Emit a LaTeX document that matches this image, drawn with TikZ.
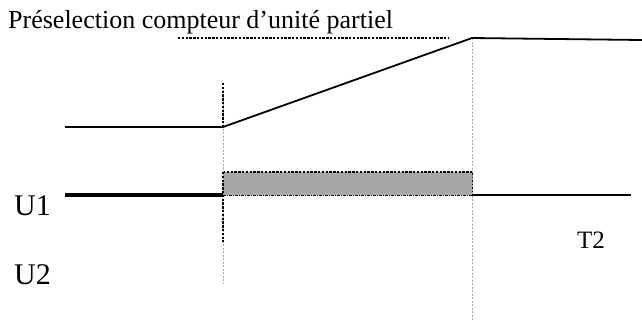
\documentclass[tikz,border=0pt]{standalone}
\usepackage{fontspec}
\setmainfont{Liberation Serif}
\begin{document}
\begin{tikzpicture}[x=1pt,y=-1pt,
  sig/.style={line width=1.8pt},
  thicksig/.style={line width=3.2pt},
  bigdot/.style={line width=2.6pt,dash pattern=on 2.4pt off 1.4pt},
  faint/.style={line width=0.7pt,gray!70,dash pattern=on 2pt off 1.5pt},
  lbl/.style={inner sep=0pt,anchor=base west}]
\useasboundingbox (0,0) rectangle (642,325);
% coordinates
\coordinate (a0) at (65,127);
\coordinate (a1) at (223,127);
\coordinate (a2) at (472,38);
\coordinate (a3) at (642,40);
\coordinate (b0) at (65,195);
\coordinate (b1) at (223,195);
\coordinate (b2) at (472,195);
\coordinate (b3) at (631,195);
\coordinate (r1) at (223,172);
\coordinate (r2) at (472,172);
% rectangle
\fill[gray!70] (r1) rectangle (b2);
\draw[line width=0.9pt] (r2) -- (b2);
\draw[line width=0.7pt,dash pattern=on 3pt off 1pt on 1pt off 1pt] (b1) -- (b2);
\draw[bigdot] (r1) -- (r2);
% guides
\coordinate (v1t) at (223,83);
\coordinate (v1b) at (223,283);
\coordinate (v2b) at (472,320);
\draw[faint] (v1t) -- (v1b);
\draw[faint] (a2) -- (v2b);
\draw[bigdot] (v1t) -- (a1);
\draw[bigdot] (r1) -- (223,242);
% dotted top line
\coordinate (d0) at (178,38);
\coordinate (d1) at (448,38);
\draw[bigdot] (d0) -- (d1);
% signals
\draw[sig] (a0) -- (a1) -- (a2) -- (a3);
\draw[thicksig] (b0) -- (b1);
\draw[sig] (b2) -- (b3);
% labels
\node[lbl,font=\fontsize{26}{30}\selectfont] (title) at (8,28) {Préselection compteur d’unité partiel};
\node[lbl,font=\fontsize{30}{34}\selectfont] (u1) at (14,215) {U1};
\node[lbl,font=\fontsize{30}{34}\selectfont] (u2) at (14,284) {U2};
\node[lbl,font=\fontsize{25}{28}\selectfont] (t2) at (577,248) {T2};
\end{tikzpicture}
\end{document}
